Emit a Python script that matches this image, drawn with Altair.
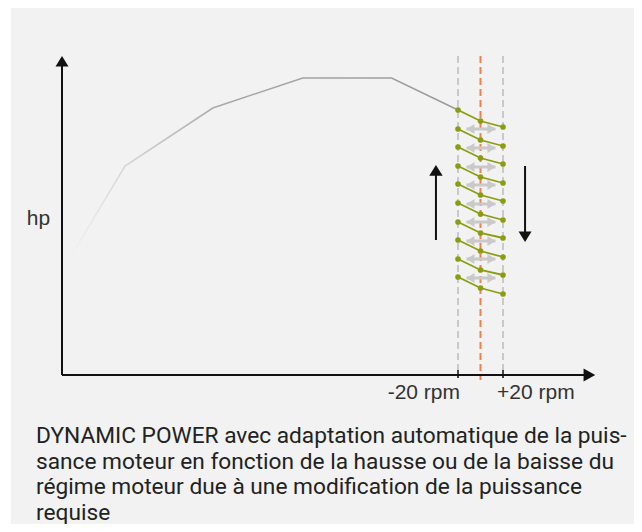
import altair as alt
import pandas as pd

# ---- data (rpm = offset from nominal engine speed, hp = arbitrary power units) ----
curve_rpm = [-365, -316, -238, -158, -79, -20]
curve_hp = [58.5, 104.5, 133.5, 148.5, 148.5, 132.5]

zig_rpm = [-20, 0, 20]
zig_left_hp = [132.5, 123, 114, 104.5, 95.5, 86, 76.5, 67.5, 58, 49]
zig_mid_hp = [127, 117.5, 108.5, 99, 90, 80.5, 71, 62, 52.5, 43.5]
zig_right_hp = [124, 114.5, 105.5, 96, 87, 77.5, 68.5, 59, 50, 40.5]

dbl_arrow_hp = [123, 113.5, 104, 95, 85.5, 76.5, 67, 58, 48.5]
dbl_arrow_rpm = [-12.5, 13.3]

band_rpm = [-20, 20]
nominal_rpm = [0]
band_top_hp = 159.5
band_bottom_hp = -1.5

axis_origin_rpm = -372
x_axis_end_rpm = 102
y_axis_end_hp = 159.5

up_arrow = {"rpm": -39.6, "from": 67.5, "to": 105}
down_arrow = {"rpm": 39.6, "from": 104.5, "to": 66.5}

tick_labels = ["-20 rpm", "+20 rpm"]
y_label = "hp"
caption = [
    "DYNAMIC POWER avec adaptation automatique de la puis-",
    "sance moteur en fonction de la hausse ou de la baisse du",
    "régime moteur due à une modification de la puissance",
    "requise",
]

# ---- scales ----
X = alt.Scale(domain=[-420, 136.44], nice=False, zero=False)
Y = alt.Scale(domain=[-74.5, 183.5], nice=False, zero=False)
BG = "#f1f2f1"
GREEN = "#8c9c12"
ORANGE = "#f2804a"
DGRAY = "#c9c9c9"
BLACK = "#111111"


def xe(field="rpm"):
    return alt.X(f"{field}:Q", scale=X, axis=None)


def ye(field="hp"):
    return alt.Y(f"{field}:Q", scale=Y, axis=None)


one = pd.DataFrame({"a": [0]})

white_strip = alt.Chart(one).mark_rect(color="white").encode(
    x=alt.value(0), x2=alt.value(3), y=alt.value(0), y2=alt.value(516)
)

# dashed band lines
band_df = pd.DataFrame({"rpm": band_rpm, "top": band_top_hp, "bot": band_bottom_hp})
band = alt.Chart(band_df).mark_rule(color=DGRAY, strokeWidth=2, strokeDash=[7, 4]).encode(
    x=xe(), y=ye("top"), y2="bot:Q"
)
nom_df = pd.DataFrame({"rpm": nominal_rpm, "top": band_top_hp, "bot": band_bottom_hp - 1})
nominal = alt.Chart(nom_df).mark_rule(color=ORANGE, strokeWidth=2, strokeDash=[7, 4]).encode(
    x=xe(), y=ye("top"), y2="bot:Q"
)

# axes
xaxis_df = pd.DataFrame({"rpm": [axis_origin_rpm], "rpm2": [x_axis_end_rpm - 8], "hp": [0]})
xaxis = alt.Chart(xaxis_df).mark_rule(color=BLACK, strokeWidth=2).encode(
    x=xe(), x2="rpm2:Q", y=ye()
)
yaxis_df = pd.DataFrame({"rpm": [axis_origin_rpm], "hp": [0], "hp2": [y_axis_end_hp - 4]})
yaxis = alt.Chart(yaxis_df).mark_rule(color=BLACK, strokeWidth=2).encode(
    x=xe(), y=ye(), y2="hp2:Q"
)
ticks_df = pd.DataFrame({"rpm": band_rpm, "top": 2.5, "bot": -1.5})
ticks = alt.Chart(ticks_df).mark_rule(color=BLACK, strokeWidth=1.5).encode(
    x=xe(), y=ye("top"), y2="bot:Q"
)

UP = "M0,0L1,1.6L-1,1.6Z"
DOWN = "M0,0L1,-1.6L-1,-1.6Z"
RIGHT = "M0,0L-1.8,-1L-1.8,1Z"
LEFT_S = "M0,0L1.6,-1L1.6,1Z"
RIGHT_S = "M0,0L-1.6,-1L-1.6,1Z"

xhead = alt.Chart(pd.DataFrame({"rpm": [x_axis_end_rpm], "hp": [0]})).mark_point(
    shape=RIGHT, size=169, filled=True, opacity=1, color=BLACK, strokeWidth=0
).encode(x=xe(), y=ye())
yhead = alt.Chart(pd.DataFrame({"rpm": [axis_origin_rpm], "hp": [y_axis_end_hp]})).mark_point(
    shape=UP, size=169, filled=True, opacity=1, color=BLACK, strokeWidth=0
).encode(x=xe(), y=ye())

# power curve with fading start
curve_df = pd.DataFrame({"rpm": curve_rpm, "hp": curve_hp})
curve = alt.Chart(curve_df).mark_line(
    strokeWidth=1.5,
    color=alt.Gradient(
        gradient="linear",
        stops=[
            alt.GradientStop(color=BG, offset=0),
            alt.GradientStop(color="#d4d4d4", offset=0.15),
            alt.GradientStop(color="#a8a8a8", offset=0.38),
            alt.GradientStop(color="#9a9a9a", offset=1),
        ],
        x1=0, x2=1, y1=0, y2=0,
    ),
).encode(x=xe(), y=ye(), order="rpm:Q")

# gray double arrows
da_rows = []
for i, h in enumerate(dbl_arrow_hp):
    da_rows.append({"row": i, "hp": h, "a": dbl_arrow_rpm[0], "b": dbl_arrow_rpm[1]})
da_df = pd.DataFrame(da_rows)
da_shaft = alt.Chart(da_df).mark_rule(color=DGRAY, strokeWidth=3).encode(
    x=xe("a"), x2="b:Q", y=ye()
)
da_left = alt.Chart(da_df).mark_point(
    shape=LEFT_S, size=100, filled=True, opacity=1, color=DGRAY, strokeWidth=0
).encode(x=xe("a"), y=ye())
da_right = alt.Chart(da_df).mark_point(
    shape=RIGHT_S, size=100, filled=True, opacity=1, color=DGRAY, strokeWidth=0
).encode(x=xe("b"), y=ye())

# green zigzag
zrows = []
for i in range(len(zig_left_hp)):
    for r, h in zip(zig_rpm, [zig_left_hp[i], zig_mid_hp[i], zig_right_hp[i]]):
        zrows.append({"row": i, "rpm": r, "hp": h})
z_df = pd.DataFrame(zrows)
zig_lines = alt.Chart(z_df).mark_line(color=GREEN, strokeWidth=1.8).encode(
    x=xe(), y=ye(), detail="row:N", order="rpm:Q"
)
zig_pts = alt.Chart(z_df).mark_circle(color=GREEN, size=32, opacity=1).encode(x=xe(), y=ye())

# black up/down arrows
arr_df = pd.DataFrame([
    {"rpm": up_arrow["rpm"], "a": up_arrow["from"], "b": up_arrow["to"] - 4},
    {"rpm": down_arrow["rpm"], "a": down_arrow["from"], "b": down_arrow["to"] + 4},
])
arr_shaft = alt.Chart(arr_df).mark_rule(color=BLACK, strokeWidth=2).encode(
    x=xe(), y=ye("a"), y2="b:Q"
)
up_head = alt.Chart(pd.DataFrame({"rpm": [up_arrow["rpm"]], "hp": [up_arrow["to"]]})).mark_point(
    shape=UP, size=180, filled=True, opacity=1, color=BLACK, strokeWidth=0
).encode(x=xe(), y=ye())
down_head = alt.Chart(pd.DataFrame({"rpm": [down_arrow["rpm"]], "hp": [down_arrow["to"]]})).mark_point(
    shape=DOWN, size=169, filled=True, opacity=1, color=BLACK, strokeWidth=0
).encode(x=xe(), y=ye())

# texts
lbl_left = alt.Chart(pd.DataFrame({"rpm": [band_rpm[0]], "hp": [-12], "t": [tick_labels[0]]})).mark_text(
    align="right", baseline="alphabetic", dx=2, font="Liberation Sans", fontSize=21, color="#333333"
).encode(x=xe(), y=ye(), text="t:N")
lbl_right = alt.Chart(pd.DataFrame({"rpm": [band_rpm[1]], "hp": [-12], "t": [tick_labels[1]]})).mark_text(
    align="left", baseline="alphabetic", dx=-6, font="Liberation Sans", fontSize=21, color="#333333"
).encode(x=xe(), y=ye(), text="t:N")
lbl_hp = alt.Chart(pd.DataFrame({"rpm": [-393], "hp": [75], "t": [y_label]})).mark_text(
    align="center", baseline="alphabetic", font="Liberation Sans", fontSize=21, color="#333333"
).encode(x=xe(), y=ye(), text="t:N")

cap = alt.Chart(one).mark_text(
    text=caption, align="left", baseline="alphabetic", font="Roboto", fontSize=22.7,
    lineHeight=25.5, color="#222222"
).encode(x=alt.value(28), y=alt.value(435))

chart = alt.layer(
    white_strip, band, nominal, curve, da_shaft, da_left, da_right, zig_lines, zig_pts,
    xaxis, yaxis, ticks, xhead, yhead, arr_shaft, up_head, down_head,
    lbl_left, lbl_right, lbl_hp, cap,
).properties(
    width=626, height=516, autosize="none", padding=0, background=BG
).configure_view(stroke=None)

chart.save("out.html", embed_options={"renderer": "svg", "actions": False})
